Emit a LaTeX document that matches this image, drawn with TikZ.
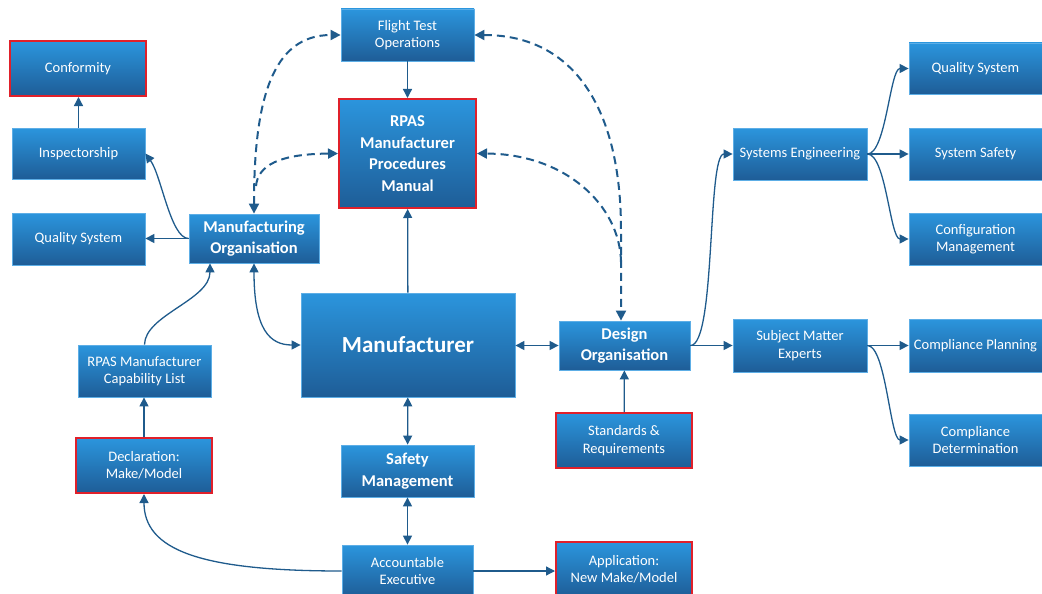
\documentclass[tikz,border=0pt]{standalone}
\usepackage{fontspec}
\setmainfont{Carlito}
\usetikzlibrary{arrows.meta}
\definecolor{btop}{HTML}{2B95DD}
\definecolor{bbot}{HTML}{1E5D97}
\definecolor{bedge}{HTML}{5DAEE6}
\definecolor{lnc}{HTML}{1F5B8C}
\definecolor{redc}{HTML}{E0202A}
\tikzset{
  box/.style={top color=btop, bottom color=bbot, draw=bedge, line width=0.8pt,
    text=white, align=center, inner sep=0pt, font=\fontsize{14.5}{17.5}\selectfont},
  redbox/.style={box, draw=redc, line width=2pt},
  bold/.style={font=\fontsize{16.5}{21.5}\selectfont\bfseries},
  sz/.style 2 args={minimum width=#1pt, minimum height=#2pt},
  arr/.style={draw=lnc, line width=1.3pt, -{Triangle[length=9pt,width=9pt]}},
  darr/.style={draw=lnc, line width=1.3pt, {Triangle[length=9pt,width=9pt]}-{Triangle[length=9pt,width=9pt]}},
  dsh/.style={draw=lnc, line width=2pt, dash pattern=on 8pt off 5pt},
  dtip/.style={-{Triangle[length=10pt,width=10pt]}},
  ddtip/.style={{Triangle[length=10pt,width=10pt]}-{Triangle[length=10pt,width=10pt]}}
}
\begin{document}
\begin{tikzpicture}[x=1pt,y=-1pt]
\useasboundingbox (0,0) rectangle (1042,594);
% left column
\node[redbox, sz={136}{55}] (conf) at (78,68.5) {Conformity};
\node[box, sz={133}{51}] (insp) at (78.5,153.5) {Inspectorship};
\node[box, sz={133}{52}] (qsl) at (78.5,239) {Quality System};
\node[box, bold, sz={130}{49}] (mo) at (254,238.5) {Manufacturing\\Organisation};
\node[box, sz={133}{52}] (rcl) at (144.5,371) {RPAS Manufacturer\\Capability List};
\node[redbox, sz={136}{55}] (dec) at (144,465.5) {Declaration:\\Make/Model};
% center column
\node[box, sz={133}{52}] (fto) at (407.5,35) {Flight Test\\Operations};
\node[redbox, bold, sz={137}{109}] (rpm) at (407.5,153.5) {RPAS\\Manufacturer\\Procedures\\Manual};
\node[box, sz={214}{104}, font=\fontsize{23}{27}\selectfont\bfseries] (man) at (408,345) {Manufacturer};
\node[box, bold, sz={133}{52}] (sm) at (407.5,471) {Safety\\Management};
\node[box, sz={131}{52}] (ae) at (407.5,571) {Accountable\\Executive};
% design column
\node[box, bold, sz={131}{49}] (do) at (624.5,345.5) {Design\\Organisation};
\node[redbox, sz={136}{55}] (std) at (624,440.5) {Standards \&\\Requirements};
\node[redbox, sz={136}{55}] (app) at (624,569.5) {Application:\\New Make/Model};
% right side
\node[box, sz={134}{52}] (se) at (800,154) {Systems Engineering};
\node[box, sz={134}{53}] (sme) at (800,345.5) {Subject Matter\\Experts};
\node[box, sz={133}{51}] (qsr) at (975.5,68.5) {Quality System};
\node[box, sz={133}{52}] (ss) at (975.5,154) {System Safety};
\node[box, sz={133}{52}] (cm) at (975.5,239) {Configuration\\Management};
\node[box, sz={133}{53}] (cp) at (975.5,345.5) {Compliance Planning};
\node[box, sz={133}{52}] (cd) at (975.5,440) {Compliance\\Determination};
% branch coordinates
\coordinate (mobr) at (256,186);
\coordinate (dobr) at (621,262);
% solid connectors
\draw[arr] (insp.north) -- (insp.north |- conf.south);
\draw[arr] (mo.west) .. controls +(-18,0) and +(16,22) .. (insp.east);
\draw[arr] (mo.west) -- (mo.west -| qsl.east);
\draw[arr] (fto) -- (rpm);
\draw[arr] (man) -- (rpm);
\draw[darr] (mo.south) .. controls (254,330) and (270,345) .. (man.west);
\draw[arr] (rcl.north) .. controls (145,315) and (210,300) .. ([xshift=-44pt]mo.south);
\draw[arr] (dec.north) -- (dec.north |- rcl.south);
\draw[arr] (ae.west) .. controls (200,571) and (144,550) .. (dec.south);
\draw[arr] (ae.east) -- (ae.east -| app.west);
\draw[darr] (man) -- (sm);
\draw[darr] (sm) -- (ae);
\draw[darr] (man.east |- do.west) -- (do.west);
\draw[arr] (std) -- (do);
\draw[arr] (do.east) .. controls (716,345.5) and (707,154) .. (se.west);
\draw[arr] (do.east) -- (sme.west);
\draw[arr] (se.east) .. controls (886,154) and (890,68.5) .. (qsr.west);
\draw[arr] (se.east) -- (ss.west);
\draw[arr] (se.east) .. controls (886,154) and (890,239) .. (cm.west);
\draw[arr] (sme.east) -- (cp.west);
\draw[arr] (sme.east) .. controls (886,345.5) and (890,440) .. (cd.west);
% dashed connectors
\draw[dsh, ddtip] (mo.north) .. controls (254,100) and (272,35) .. (fto.west);
\draw[dsh, dtip] (mobr) .. controls (258,165) and (280,154) .. (rpm.west);
\draw[dsh, ddtip] (fto.east) .. controls (575,35) and (621,110) .. (621,230) -- ([xshift=-3.5pt]do.north);
\draw[dsh, dtip] (dobr) .. controls (620,205) and (565,154) .. (rpm.east);
\end{tikzpicture}
\end{document}
